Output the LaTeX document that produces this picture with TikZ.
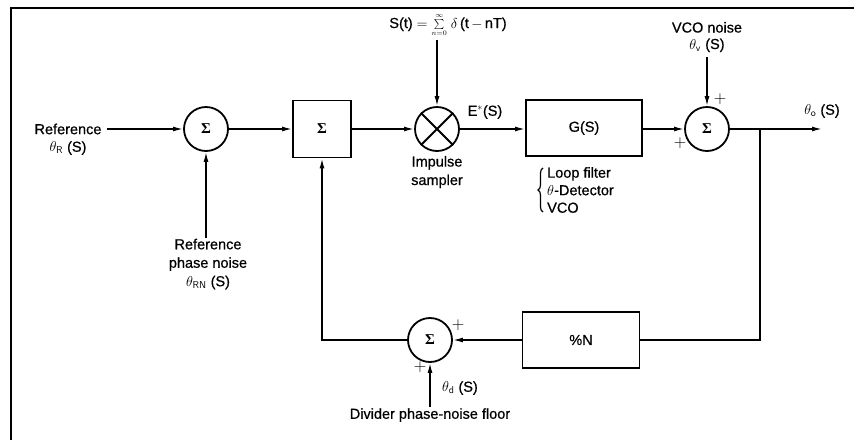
\documentclass[tikz,border=0pt]{standalone}
\usepackage[no-math]{fontspec}
\setmainfont{Liberation Sans}[FakeBold=0.6]
\newfontfamily\sigfont{Liberation Serif}
\usetikzlibrary{arrows.meta,decorations.pathreplacing,calc}
\newcommand{\sgm}{{\sigfont\bfseries Σ}}
\begin{document}
\begin{tikzpicture}[x=1pt,y=-1pt,
  font=\fontsize{14.5}{18.5}\selectfont,
  sumnode/.style={circle,draw,line width=1.8pt,minimum size=44pt,inner sep=0pt},
  blk/.style={rectangle,draw,line width=1.8pt,inner sep=0pt},
  lbl/.style={inner sep=1pt,align=center},
  plus/.style={inner sep=0pt,font=\fontsize{17}{17}\selectfont},
  conn/.style={line width=1.5pt},
  arr/.style={conn,-{Latex[length=10pt,width=5pt]}},
  sig/.style={font=\fontsize{15}{15}\selectfont},
]
\useasboundingbox (0,0) rectangle (854,440);
\draw[line width=2.2pt] (11,440) -- (11,8) -- (854,8);

% blocks
\node[sumnode,sig] (s1) at (206,129) {\sgm};
\node[blk,sig,minimum width=58pt,minimum height=57pt] (b1) at (322,129) {\sgm};
\node[sumnode] (mx) at (437,129) {};
\draw[line width=1.8pt] (mx.north west) -- (mx.south east) (mx.north east) -- (mx.south west);
\node[blk,minimum width=116pt,minimum height=56pt] (g) at (584,128) {G(S)};
\node[sumnode,sig] (s3) at (707,129) {\sgm};
\node[blk,minimum width=117pt,minimum height=56pt] (dn) at (581,340) {\%N};
\node[sumnode,sig] (s2) at (430,340) {\sgm};

% labels
\node[lbl] (refa) at (68,129) {Reference};
\node[lbl] (refb) at (68,148) {$\theta_{\mathsf{R}}$ (S)};
\node[lbl] (st) at (448,25) {S(t) $=$ $\sum\limits_{\scriptscriptstyle n=0}^{\scriptscriptstyle\infty}$ $\delta$\,(t\,$-$\,nT)};
\node[lbl] (vco) at (707,37) {VCO noise\\[-2pt]$\theta_{\mathsf{v}}$ (S)};
\node[lbl] (eo) at (485,112) {E$^{*}$(S)};
\node[lbl] (imp) at (437,172) {Impulse\\sampler};
\node[lbl,align=left,anchor=west] (lf) at (546,190) {Loop filter\\[-1pt]$\theta$-Detector\\[-1pt]VCO};
\node[lbl] (to) at (822,111) {$\theta_{\mathsf{o}}$ (S)};
\node[lbl] (rpn) at (208,264) {Reference\\phase noise\\$\theta_{\mathsf{RN}}$ (S)};
\node[lbl] (td) at (460,388) {$\theta_{\mathsf{d}}$ (S)};
\node[lbl] (dv) at (430,415) {Divider phase-noise floor};

\node[plus] (p1) at (720,99) {$+$};
\node[plus] (p2) at (680,143) {$+$};
\node[plus] (p3) at (458,325) {$+$};
\node[plus] (p4) at (420,367) {$+$};

% connectors
\coordinate (out) at (822,129);
\coordinate (j) at (760,129);
\draw[arr] ([xshift=4pt]refa.east) -- (s1);
\draw[arr] (s1) -- (b1);
\draw[arr] (b1) -- (mx);
\draw[arr] (mx.east) -- (mx.east -| g.west);
\draw[arr] (g.east |- s3) -- (s3);
\draw[arr] (s3) -- (out);
\draw[arr] ([yshift=-2pt]mx |- st.south) -- (mx);
\draw[arr] ([yshift=-4pt]vco.south) -- (s3);
\draw[conn] (j) |- (dn.east);
\draw[arr] (dn) -- (s2);
\draw[arr] (s2.west) -| (b1.south);
\draw[arr] (rpn.north -| s1) -- (s1.south);
\draw[arr] (dv.north) -- (s2.south);
\draw[line width=1.2pt,decorate,decoration={brace,amplitude=5pt}]
  ([xshift=-3pt,yshift=2pt]lf.south west) -- ([xshift=-3pt,yshift=-2pt]lf.north west);
\end{tikzpicture}
\end{document}
